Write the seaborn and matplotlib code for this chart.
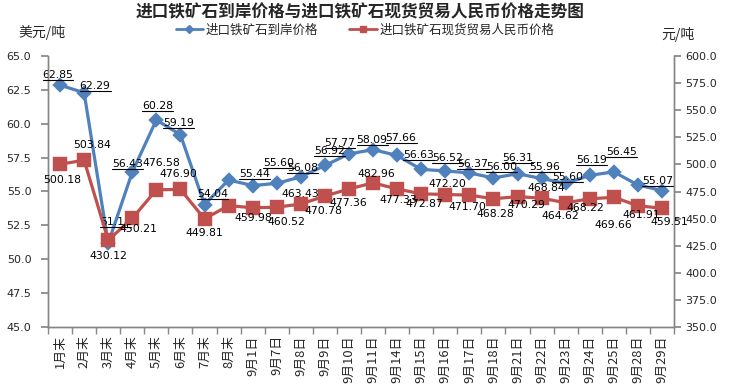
import numpy as np
import seaborn as sns
import matplotlib.pyplot as plt
from matplotlib.lines import Line2D

sns.set_theme(style="white")
plt.rcParams["font.family"] = ["DejaVu Sans", "Noto Sans CJK SC"]

categories = ["1月末", "2月末", "3月末", "4月末", "5月末", "6月末", "7月末", "8月末",
              "9月1日", "9月7日", "9月8日", "9月9日", "9月10日", "9月11日", "9月14日",
              "9月15日", "9月16日", "9月17日", "9月18日", "9月21日", "9月22日",
              "9月23日", "9月24日", "9月25日", "9月28日", "9月29日"]
usd_price = [62.85, 62.29, 51.18, 56.43, 60.28, 59.19, 54.04, 55.85,
             55.44, 55.60, 56.08, 56.92, 57.77, 58.09, 57.66, 56.63, 56.52,
             56.37, 56.00, 56.31, 55.96, 55.60, 56.19, 56.45, 55.48, 55.07]
rmb_price = [500.18, 503.84, 430.12, 450.21, 476.58, 476.90, 449.81, 462.00,
             459.98, 460.52, 463.43, 470.78, 477.36, 482.96, 477.33, 472.87,
             472.20, 471.70, 468.28, 470.29, 468.84, 464.62, 468.22, 469.66,
             461.91, 459.51]
usd_name = "进口铁矿石到岸价格"
rmb_name = "进口铁矿石现货贸易人民币价格"
title = "进口铁矿石到岸价格与进口铁矿石现货贸易人民币价格走势图"

# label offsets in pixels (None = no label shown)
usd_offsets = [(-2, 10), (11, 7), (7, 21), (-5, 8), (1, 14), (-2, 12), (8, 11), None,
               (2, 12), (2, 20), (2, 9), (5, 14), (-9, 11), (-1, 10), (4, 17),
               (-3, 14), (2, 13), (3, 9), (8, 11), (0, 16), (3, 11), (2, 6),
               (2, 15), (8, 20), None, (-4, 10)]
rmb_offsets = [(2, -16), (8, 15), (0, -16), (6, -11), (5, 27), (-2, 15), (0, -14), None,
               (1, -10), (10, -15), (0, 10), (-2, -15), (-1, -14), (3, 9), (1, -11),
               (3, -10), (2, 11), (-2, -12), (2, -15), (9, -8), (5, 10), (-5, -13),
               (-4, -9), (0, -28), (3, -9), (7, -14)]

blue = "#4F81BD"
red = "#C0504D"
gray = "#868686"
cjk = ["Noto Sans CJK SC", "DejaVu Sans"]

fig = plt.figure(figsize=(7.39, 3.91), dpi=100)
ax = fig.add_axes([48 / 739, 1 - 327 / 391, 626 / 739, 271 / 391])
ax2 = ax.twinx()

sns.pointplot(x=categories, y=usd_price, ax=ax, color=blue, marker="D",
              markersize=6.5, linewidth=2.3)
sns.pointplot(x=categories, y=rmb_price, ax=ax2, color=red, marker="s",
              markersize=8.5, linewidth=2.3)

ax.set_ylim(45, 65)
ax.set_yticks(np.arange(45, 65.1, 2.5))
ax.set_yticklabels([f"{v:.1f}" for v in np.arange(45, 65.1, 2.5)], fontsize=8)
ax2.set_ylim(350, 600)
ax2.set_yticks(np.arange(350, 600.1, 25))
ax2.set_yticklabels([f"{v:.1f}" for v in np.arange(350, 600.1, 25)], fontsize=8)
ax.set_xlim(-0.5, len(categories) - 0.5)
ax.set_xlabel("")
ax.set_ylabel("")
ax2.set_xlabel("")
ax2.set_ylabel("")

ax.set_xticks(range(len(categories)))
ax.set_xticklabels(categories, rotation=90, fontsize=9.3, family=cjk)
ax.set_xticks(np.arange(len(categories) + 1) - 0.5, minor=True)
ax.tick_params(axis="x", which="major", length=0, pad=6)
ax.tick_params(axis="x", which="minor", length=5, color=gray, bottom=True)
ax.tick_params(axis="y", length=5, color=gray, left=True, pad=7)
ax2.tick_params(axis="y", length=5, color=gray, right=True, pad=3)

for a in (ax, ax2):
    a.spines["top"].set_visible(False)
    for s in ("left", "right", "bottom"):
        a.spines[s].set_color(gray)
        a.spines[s].set_linewidth(1)
    a.grid(False)

usd_labels = []
for i, (v, off) in enumerate(zip(usd_price, usd_offsets)):
    if off is None:
        continue
    t = ax.annotate(f"{v:.2f}", (i, v), xytext=off, textcoords="offset pixels",
                    ha="center", va="center", fontsize=7.8, color="black")
    usd_labels.append(t)
for i, (v, off) in enumerate(zip(rmb_price, rmb_offsets)):
    if off is None:
        continue
    ax2.annotate(f"{v:.2f}", (i, v), xytext=off, textcoords="offset pixels",
                 ha="center", va="center", fontsize=7.8, color="black")

fig.text(360 / 739, 1 - 12 / 391, title, ha="center", va="center",
         fontsize=12, fontweight="bold", family=cjk)
fig.text(42 / 739, 1 - 32 / 391, "美元/吨", ha="center", va="center",
         fontsize=10, family=cjk)
fig.text(678 / 739, 1 - 34 / 391, "元/吨", ha="center", va="center",
         fontsize=10, family=cjk)

handles = [Line2D([], [], color=blue, marker="D", markersize=4, linewidth=2),
           Line2D([], [], color=red, marker="s", markersize=5, linewidth=2)]
fig.legend(handles, [usd_name, rmb_name], loc="center", ncol=2,
           bbox_to_anchor=(365 / 739, 1 - 30 / 391), frameon=False,
           prop={"family": cjk, "size": 9}, handlelength=2.2,
           handletextpad=0.2, columnspacing=2.5)

# underline the blue labels like the original
fig.canvas.draw()
renderer = fig.canvas.get_renderer()
for t in usd_labels:
    bb = t.get_window_extent(renderer)
    fig.add_artist(Line2D([bb.x0, bb.x1], [bb.y0, bb.y0], color="black",
                          linewidth=0.8, transform=None))

fig.savefig("out.png", dpi=100)
